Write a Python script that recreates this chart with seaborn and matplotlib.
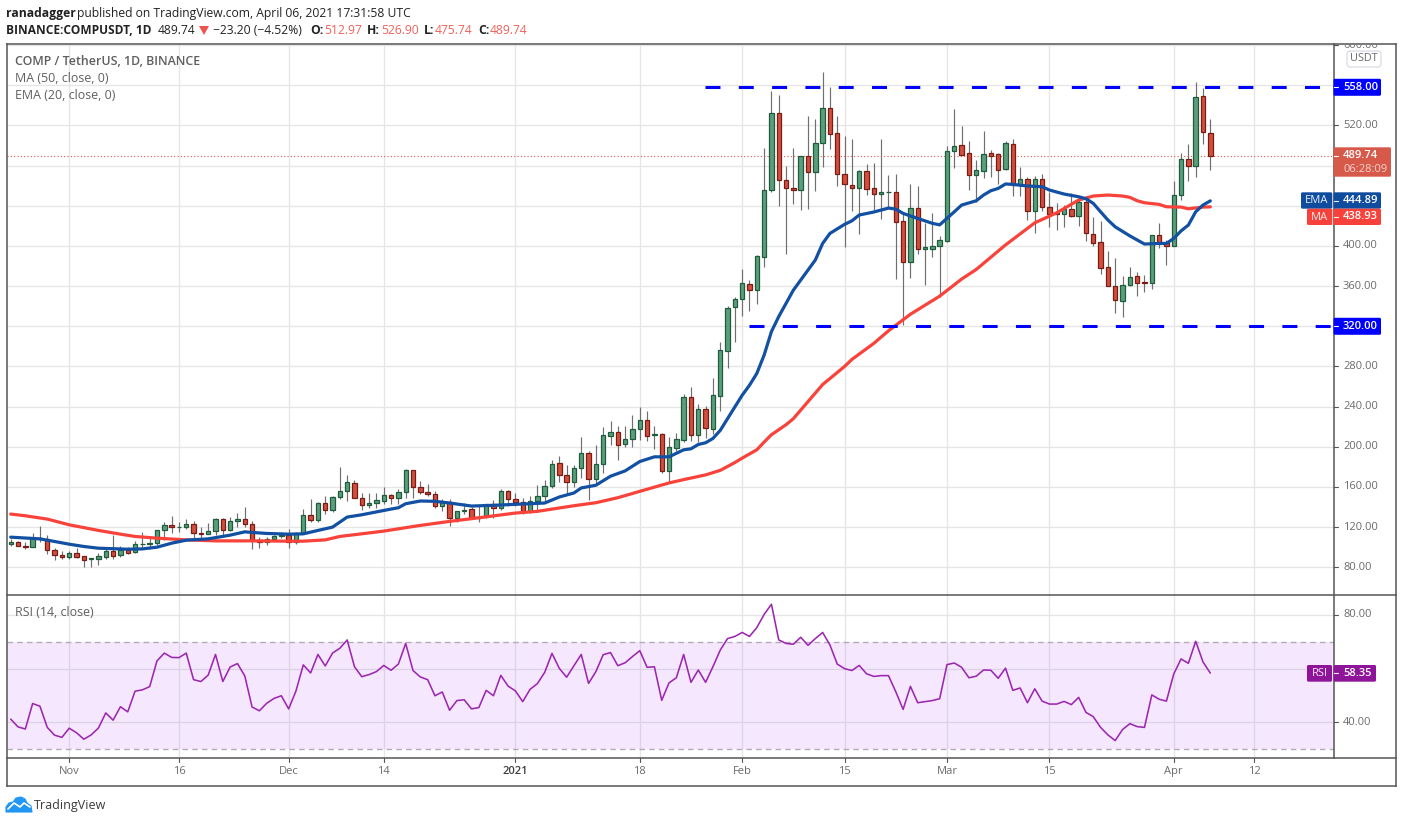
import matplotlib
matplotlib.use("Agg")
import matplotlib.pyplot as plt
import seaborn as sns
import pandas as pd
from matplotlib.patches import Rectangle, FancyBboxPatch, Polygon

# ------------------------------------------------------------ #
# Data (candle 0 = 24 Oct 2020, daily)
# ------------------------------------------------------------ #
opens = [102.7, 104.7, 101, 100, 109, 108, 97, 92, 90.7, 94,
         91, 88, 88.7, 90.7, 96, 92, 97, 95, 102.7, 102.7,
         103.7, 116.7, 122, 120, 119.7, 123, 114.3, 112.7, 116, 128,
         117, 125.7, 128, 123, 107, 105, 108, 111, 111.7, 105,
         114, 132, 127, 144, 137, 149.7, 155.7, 164.3, 149.3, 142,
         144, 146, 152.3, 149, 155, 177.3, 160.3, 155.3, 153.3, 141,
         145.3, 129, 136.3, 137.7, 129, 131, 143.3, 139.3, 156.3, 148.3,
         145, 136, 146, 151, 161, 184.3, 172.3, 165, 179, 194.3,
         168, 183.3, 211, 214.3, 203, 207.3, 217.3, 226.3, 211.3, 212.3,
         176, 199, 207, 250, 212, 238, 218, 251, 295, 339,
         347.4, 361.7, 356.3, 389.2, 455.3, 532, 465.3, 457.3, 455.3, 490,
         473.3, 502.2, 537, 512.2, 471.3, 460.3, 457.3, 474.3, 457.3, 451.4,
         453.5, 453.4, 424.5, 383.6, 437.4, 397.2, 397.2, 399.5, 404.5, 494.2,
         500.2, 492.2, 470.3, 475, 492.2, 491.2, 477, 501.2, 460.7, 466.3,
         434.4, 466.3, 438.4, 432.5, 432, 436.4, 429.4, 443.4, 411.5, 403.5,
         378.6, 359.7, 344.7, 360.7, 369.6, 363.6, 362.7, 410.5, 402.5, 399.5,
         450.4, 486.2, 479.3, 549, 512.97]
highs = [107.9, 105.7, 105, 114, 121, 112, 99.3, 96, 96, 99.7,
         91, 89, 94.3, 100.3, 111.7, 101, 100, 106, 115.3, 110,
         117.3, 125, 131.3, 125.3, 128.3, 126.3, 119.7, 124.3, 129.3, 129.3,
         130.3, 134.3, 140.3, 126.3, 110, 110.3, 112.3, 115, 118.3, 115.3,
         138.3, 148.3, 144.7, 151.3, 151.3, 180.3, 172.3, 166.7, 153.7, 153.7,
         153.7, 159.7, 153, 157.7, 178, 177.3, 165.7, 163.3, 155.7, 148.3,
         148, 136.3, 144, 140, 140.7, 143.3, 146.7, 158.3, 157.3, 154.3,
         149.3, 151, 161.7, 166.7, 186.7, 191.3, 181.7, 181.7, 209.7, 196,
         201.7, 219.3, 225.7, 220.7, 220.7, 231.7, 239.7, 235.7, 220.7, 213.3,
         209.7, 213.3, 253, 259.3, 242.3, 240.3, 268.3, 304.3, 340.3, 348.7,
         377, 366, 391, 498, 554.4, 550.4, 479.3, 497.2, 489.2, 529.4,
         526.4, 573, 558.3, 529.4, 509.5, 506.5, 475.3, 481.6, 482.6, 506.5,
         470.6, 471.6, 431.4, 461.7, 459.7, 423, 432.8, 409.5, 499.5, 536,
         519.5, 504.5, 485.6, 514.5, 495.5, 492.9, 504.5, 506.5, 478.6, 469,
         469.6, 471.6, 454, 442.7, 440.7, 452.7, 449, 447.4, 428.8, 424.8,
         394.9, 387.9, 370, 378.9, 374, 370.6, 410.5, 422.8, 405.8, 464.7,
         492.2, 501.5, 563.3, 557, 526.9]
lows = [100.7, 100.7, 98, 100, 104.7, 93.7, 87.7, 88.3, 88.7, 89.7,
        80.7, 80.7, 82.7, 88.7, 88.7, 90.7, 93, 94, 98.3, 98,
        102.3, 107, 113.7, 115, 117.7, 107.3, 108.3, 112.7, 112, 112,
        116, 120.3, 120, 98.7, 99.7, 101.7, 107.3, 108.7, 99.7, 103.3,
        114, 124.7, 124.7, 132.7, 134.7, 148, 145.7, 149, 137, 139.3,
        139, 143.3, 143.3, 142.7, 149.3, 148.7, 153.3, 150.7, 139.3, 136,
        121, 125, 132.7, 128.3, 125, 129.3, 129, 137.3, 140.7, 140.7,
        133.3, 134, 136.7, 146, 159.3, 165, 151.7, 160, 169, 146.7,
        163.3, 174, 202, 186.7, 200, 200, 206.7, 205.7, 197.7, 174,
        165, 196, 204.7, 205.7, 204.7, 208.7, 212.3, 235.7, 278.7, 304.6,
        330.4, 335.4, 342.4, 379.3, 454, 440, 392.2, 442, 436, 437,
        455, 479, 497, 460, 399, 434.8, 412, 451, 435.4, 427,
        438, 367.3, 321, 368.3, 392.2, 361, 389.2, 348.7, 403.9, 478,
        490.5, 455.7, 444, 468, 468.6, 461.3, 476, 449.7, 449.7, 425.8,
        412.8, 435, 418.8, 415.8, 418.8, 429, 419.8, 404.9, 400.2, 372.3,
        359.7, 333.4, 329.4, 360, 350.4, 354.3, 357.3, 398.2, 381, 399.5,
        445.7, 464.7, 468.6, 501.9, 475.74]
closes = [105, 101, 100, 108.7, 107.7, 97, 92, 90.7, 94, 90.7,
          87, 89, 91, 96, 91.7, 97, 94.7, 103, 103.3, 104.3,
          117, 122, 120, 120.3, 123, 113.7, 112.7, 116, 128, 117,
          126, 128, 122.7, 107, 105, 108, 111.3, 111.7, 105, 113.7,
          132, 127, 144, 137, 150, 156, 165, 149, 142.3, 144.3,
          147.3, 152.3, 149, 155.3, 177.3, 160, 155, 153, 141, 144.7,
          129, 136.3, 137.3, 129, 130.3, 143, 139, 156.3, 148, 145,
          136, 146, 151.3, 161.3, 183.3, 172, 165, 179.3, 194.3, 168,
          183.3, 211.3, 214.3, 202, 207.3, 217.3, 226.3, 211, 212.3, 176,
          199.3, 207.3, 250, 212, 238, 219, 252, 296, 338, 347,
          362.7, 356.3, 389.6, 455.3, 532, 465.3, 457.3, 455.3, 489.2, 473.3,
          502.2, 537, 511.2, 471.3, 461.3, 457.3, 474.3, 456.3, 451.4, 453.4,
          454, 423.5, 383.6, 437.4, 396.5, 398.5, 399.5, 405.5, 494.2, 499.2,
          490.9, 470.3, 475.3, 491.2, 490, 476, 502.2, 460.3, 466.3, 434.4,
          466.3, 438.4, 431.4, 431.8, 436.4, 429.4, 443.4, 412.5, 403.2, 378.3,
          359.7, 345.7, 360.7, 368.6, 363.3, 362.7, 410.5, 402.5, 399.5, 450.4,
          486.2, 479.3, 548, 513.2, 489.74]

rsi = [41.2, 38.3, 37.5, 47, 46, 38.1, 35.2, 34.4, 37.8, 36.1,
       33.7, 35.3, 37.9, 43.5, 40.8, 45.8, 43.9, 51.6, 52.1, 53.3,
       62.9, 65.8, 64.2, 64.1, 65.8, 55.9, 55.2, 57.6, 65.3, 55.2,
       60.6, 61.9, 57.3, 45.7, 44.3, 47.1, 48.9, 49.9, 45, 51.7,
       61.4, 58.4, 65.3, 61, 65.8, 67.6, 70.7, 60.7, 57, 57.8,
       58.9, 61.2, 59.4, 61.7, 69.4, 59.3, 56.9, 55.9, 49.9, 51.3,
       44.5, 48.1, 48.4, 45, 45.5, 51.9, 49.9, 57.5, 53.5, 51.7,
       47.7, 52.3, 54.4, 58.6, 65.7, 60.1, 56.8, 61.1, 65.3, 54.5,
       58.9, 65.2, 66, 61.1, 62.2, 64.5, 66.7, 60.5, 60.7, 48.2,
       54.7, 56.6, 65.3, 54.9, 59.5, 54.9, 60.7, 66.9, 71.2, 72,
       73.5, 72, 75.3, 80.2, 84, 70.7, 69.4, 69.1, 71.7, 68.7,
       71.2, 73.5, 68.8, 61.7, 60, 59.3, 61.2, 58.1, 57.1, 57.4,
       57.4, 51.4, 44.8, 53.4, 47.3, 47.7, 48.1, 48.8, 61.5, 62.1,
       60.5, 56.6, 57.2, 59.5, 59.4, 56.4, 60.2, 51.9, 52.8, 47.3,
       52.5, 47.9, 46.8, 46.8, 47.8, 46.6, 49.3, 43.7, 42.1, 38.1,
       35.3, 33.2, 37.3, 39.5, 38.4, 38.1, 50.2, 48.6, 47.9, 58,
       63.6, 62, 70.2, 62.5, 58.35]

ema_days = [0, 4, 6, 8, 10, 12, 16, 18, 20, 22, 24, 27, 30, 32, 33, 35, 38, 40, 42, 44,
            46, 48, 52, 53, 54, 56, 58, 60, 63, 66, 69, 71, 73, 75, 77, 78, 80, 82, 84, 86,
            88, 90, 92, 93, 94, 95, 96, 97, 98, 99, 100, 101, 102, 103, 104, 105, 107, 109, 110,
            111, 112, 114, 115, 116, 118, 120, 121, 122, 124, 126, 127, 129, 130, 132, 133,
            134, 135, 136, 137, 139, 141, 142, 144, 146, 147, 148, 149, 150, 151, 153, 155,
            157, 158, 159, 160, 161, 162, 163, 164]
ema = [110, 108.3, 105.7, 103, 100.7, 99, 98, 98.3, 100, 104, 107, 108.3, 112, 115.3, 114.7, 113.7, 113, 113.3, 116.7, 120,
       130, 132.3, 138, 139.3, 143.3, 146, 145.7, 144, 141, 141.7, 142.7, 143.3, 144, 150, 154, 159, 161.7, 170.7, 176, 185.3,
       190, 190, 197, 198, 202.3, 204, 208.3, 216.3, 228, 239.7, 251.3, 261.3, 273, 291.3, 314.7, 329.7, 356, 376, 386,
       402.5, 412.5, 421.5, 425, 430.8, 433.8, 437.7, 436.7, 432.4, 427.4, 422.5, 421, 434, 440.7, 445, 450.7,
       455, 457.3, 461.7, 461.3, 459.7, 459, 455.7, 451.7, 449, 447, 442.4, 434, 425.8, 419, 410, 401.9,
       402.5, 402.5, 407.5, 415, 420.8, 434, 440.7, 444.89]

ma_days = [0, 2, 5, 8, 12, 15, 17, 20, 24, 28, 33, 38, 40, 43, 45, 51, 53, 56, 60, 64, 69, 72, 77, 80,
           83, 87, 90, 92, 95, 97, 99, 100, 102, 103, 104, 106, 107, 109, 111, 112, 114, 115, 118, 120, 123, 127,
           130, 132, 136, 140, 143, 146, 148, 150, 152, 153, 154, 155, 157, 158, 160, 161, 163, 164]
ma = [133, 131.3, 128, 122.3, 116.7, 113, 110.7, 109, 107.3, 106.3, 106.3, 106, 106, 107.3, 110.7, 116, 118.3, 121.7, 125.7, 129.3, 134, 135.7, 141.3, 144.3,
      149.3, 157.7, 164, 167.3, 172, 176.5, 184.3, 188.7, 197, 204.7, 212, 222, 228, 245, 262, 268, 280, 287, 303, 315.5, 332, 350,
      367, 376.6, 401, 423, 433, 445.7, 449.7, 450.7, 449.7, 448.4, 445, 443, 441.4, 439, 438.7, 437, 438.7, 438.93]

price_ticks = [80, 120, 160, 200, 240, 280, 360, 400, 520]
price_grid = [80, 120, 160, 200, 240, 280, 320, 360, 400, 440, 480, 520, 560, 600]
rsi_grid = [40, 60, 80]
rsi_ticks = [40, 80]
date_pos = [8, 23, 38, 51, 69, 86, 100, 114, 128, 142, 159, 170]
date_labels = ["Nov", "16", "Dec", "14", "2021", "18", "Feb", "15", "Mar", "15", "Apr", "12"]

resist = 558.0
support = 320.0
last_price = 489.74

df = pd.DataFrame({"day": range(len(closes)), "open": opens, "high": highs,
                   "low": lows, "close": closes, "rsi": rsi})
ema_df = pd.DataFrame({"day": ema_days, "value": ema})
ma_df = pd.DataFrame({"day": ma_days, "value": ma})

# ------------------------------------------------------------ #
# Figure and panes
# ------------------------------------------------------------ #
sns.set_theme(style="white")
plt.rcParams["font.family"] = ["Open Sans", "DejaVu Sans"]

W, H = 1402, 823
LEFT, RIGHT, TOP, MID, BOT = 6.5, 1333.5, 43.5, 595.0, 758.0
GRID = "#e6e6e6"
FRAME = "#555555"
TICK = "#6b6b6b"
AX_FS = 8.0


def pane(l, t, r, b):
    return fig.add_axes([l / W, 1 - b / H, (r - l) / W, (b - t) / H])


fig = plt.figure(figsize=(W / 100, H / 100), dpi=100, facecolor="white")
ax = pane(LEFT, TOP, RIGHT, MID)
ax2 = pane(LEFT, MID, RIGHT, BOT)

for a in (ax, ax2):
    a.set_xlim(-0.574, 180.84)
    a.set_xticks(date_pos)
    a.set_axisbelow(True)
    a.grid(True, color=GRID, lw=1.0)
    a.tick_params(left=False, bottom=False, labelleft=False, labelbottom=False)
    a.set_xlabel("")
    a.set_ylabel("")
    for s in a.spines.values():
        s.set_visible(False)

ax.set_ylim(52.4, 601.6)
ax.set_yticks(price_grid)
ax2.set_ylim(26.7, 87.45)
ax2.set_yticks(rsi_grid)

# candles
up = df["close"] >= df["open"]
ax.vlines(df["day"], df["low"], df["high"], color="#6f6f6f", lw=0.85, zorder=2)
body_low = df[["open", "close"]].min(axis=1)
body_high = df[["open", "close"]].max(axis=1)
ax.bar(df["day"][up], (body_high - body_low)[up], bottom=body_low[up], width=0.6,
       color="#5c9e7c", edgecolor="#1f5c3e", lw=0.9, zorder=3)
ax.bar(df["day"][~up], (body_high - body_low)[~up], bottom=body_low[~up], width=0.6,
       color="#d24f3e", edgecolor="#7a1c16", lw=0.9, zorder=3)

# moving averages
sns.lineplot(data=ma_df, x="day", y="value", ax=ax, color="#f8423a", lw=2.3,
             errorbar=None, legend=False, zorder=4)
sns.lineplot(data=ema_df, x="day", y="value", ax=ax, color="#1150a2", lw=2.3,
             errorbar=None, legend=False, zorder=5)
ax.set_xlabel("")
ax.set_ylabel("")

# last price and the two drawn levels
ax.axhline(last_price, color="#d05a4b", lw=0.8, ls=(0, (1, 2)), zorder=2.5)
ax.hlines(resist, 94.9, 180.84, color="#0000ff", lw=2.2, linestyles=[(0, (4.9, 6.0))], zorder=6)
ax.hlines(support, 100.9, 180.84, color="#0000ff", lw=2.2, linestyles=[(0, (4.9, 6.0))], zorder=6)

# RSI
ax2.axhspan(30, 70, color="#9915f5", alpha=0.095, lw=0, zorder=1)
ax2.axhline(70, color="#b5aab8", lw=1.0, ls=(0, (4, 3)), zorder=2)
ax2.axhline(30, color="#b5aab8", lw=1.0, ls=(0, (4, 3)), zorder=2)
sns.lineplot(data=df, x="day", y="rsi", ax=ax2, color="#9c27b0", lw=1.15,
             errorbar=None, legend=False, zorder=3)
ax2.set_xlabel("")
ax2.set_ylabel("")

# ------------------------------------------------------------ #
# Overlay in pixels: frame, axis strips, labels
# ------------------------------------------------------------ #
ov = fig.add_axes([0, 0, 1, 1], zorder=10)
ov.set_xlim(0, W)
ov.set_ylim(H, 0)
ov.axis("off")
ov.patch.set_alpha(0)


def y_price(p):
    return ax.transData.transform((0, p))[1] * -1 + H


def y_rsi(p):
    return ax2.transData.transform((0, p))[1] * -1 + H


def x_day(d):
    return ax.transData.transform((d, 0))[0]


for xs, ys in [([LEFT, 1395.5], [TOP, TOP]), ([LEFT, 1395.5], [MID, MID]),
               ([LEFT, 1395.5], [BOT, BOT]), ([LEFT, 1395.5], [786, 786]),
               ([LEFT, LEFT], [TOP, 786]), ([1395.5, 1395.5], [TOP, 786]),
               ([RIGHT, RIGHT], [TOP, BOT])]:
    ov.plot(xs, ys, color=FRAME, lw=1.1, solid_capstyle="projecting")

TK = dict(color=TICK, fontsize=AX_FS, va="center", ha="left")
for p in price_ticks:
    yy = y_price(p)
    ov.plot([RIGHT, RIGHT + 4.5], [yy, yy], color=FRAME, lw=0.8)
    ov.text(1343, yy, f"{p:.2f}", **TK)
t = ov.text(1343, y_price(600), "600.00", clip_on=True, **TK)
t.set_clip_path(Rectangle((RIGHT, TOP + 1), 55, 30, transform=ov.transData))
ov.plot([RIGHT, RIGHT + 4.5], [y_price(600)] * 2, color=FRAME, lw=0.8)
for p in rsi_ticks:
    yy = y_rsi(p)
    ov.plot([RIGHT, RIGHT + 4.5], [yy, yy], color=FRAME, lw=0.8)
    ov.text(1343, yy, f"{p:.2f}", **TK)
for d, lab in zip(date_pos, date_labels):
    xx = x_day(d)
    ov.plot([xx, xx], [BOT, BOT + 4], color=FRAME, lw=0.8)
    ov.text(xx, 771.5, lab, color="#3f3f3f" if lab == "2021" else TICK, fontsize=AX_FS,
            ha="center", va="center", fontweight="semibold" if lab == "2021" else "normal")


def tag(x0, x1, y0, y1, color):
    ov.add_patch(FancyBboxPatch((x0 + 1, y0 + 1), x1 - x0 - 2, y1 - y0 - 2,
                                boxstyle="round,pad=1,rounding_size=1.5", fc=color, ec="none", zorder=3))


def value_tag(x1, y0, y1, color, text):
    tag(RIGHT, x1, y0, y1, color)
    ov.plot([RIGHT, RIGHT + 4.5], [(y0 + y1) / 2] * 2, color="white", lw=0.8, zorder=4)
    ov.text(1343, (y0 + y1) / 2, text, color="white", fontsize=AX_FS, va="center", ha="left",
            fontweight="semibold", zorder=5)


value_tag(1381, y_price(resist) - 8.5, y_price(resist) + 8.5, "#0000ff", "558.00")
value_tag(1381, y_price(support) - 8.5, y_price(support) + 8.5, "#0000ff", "320.00")

# last price tag has a countdown under the value
tag(RIGHT, 1391, 147.3, 176.7, "#d6594a")
ov.plot([RIGHT, RIGHT + 4.5], [155.5, 155.5], color="white", lw=0.8, zorder=4)
ov.text(1343, 155.5, "489.74", color="white", fontsize=AX_FS, va="center", fontweight="semibold", zorder=5)
ov.text(1343, 169, "06:28:09", color="#f6d5d0", fontsize=AX_FS, va="center", zorder=5)

value_tag(1381, 192.3, 208.7, "#0f4c9e", "444.89")
tag(1301, 1332.3, 192.3, 208.7, "#0f4c9e")
ov.text(1316.5, 200.5, "EMA", color="#e8eef8", fontsize=AX_FS, ha="center", va="center", zorder=5)
value_tag(1381, 208.7, 225, "#f6423b", "438.93")
tag(1307, 1332.3, 208.7, 225, "#f6423b")
ov.text(1319.5, 217, "MA", color="#fde8e6", fontsize=AX_FS, ha="center", va="center", zorder=5)

value_tag(1376, 665, 681.7, "#8e1599", "58.35")
tag(1307, 1332, 665, 681.7, "#8e1599")
ov.text(1319.5, 673.5, "RSI", color="#f5e6f8", fontsize=AX_FS, ha="center", va="center", zorder=5)

ov.add_patch(FancyBboxPatch((1348, 52), 32, 14, boxstyle="round,pad=1,rounding_size=3",
                            fc="white", ec="#d9dbe3", lw=0.9, zorder=3))
ov.text(1364, 58.5, "USDT", color=TICK, fontsize=7.8, ha="center", va="center", zorder=5)

# pane captions
CAP = dict(color="#5f5f5f", fontsize=8.9, va="center", ha="left")
ov.text(15, 61, "COMP / TetherUS, 1D, BINANCE", fontweight="semibold", **CAP)
ov.text(15, 78, "MA (50, close, 0)", **CAP)
ov.text(15, 95, "EMA (20, close, 0)", **CAP)
ov.text(15, 612, "RSI (14, close)", **CAP)

# header
HEAD = dict(fontsize=8.75, va="center", ha="left", color="#222222")
ov.text(6, 13, "ranadagger", fontweight="bold", **HEAD)
ov.text(77, 13, "published on TradingView.com, April 06, 2021 17:31:58 UTC", **HEAD)
ov.text(6, 30, "BINANCE:COMPUSDT, 1D", fontweight="bold", fontsize=8.6, va="center", ha="left", color="#222222")
ov.text(158, 30, "489.74", **HEAD)
ov.add_patch(Polygon([(199, 26), (209, 26), (204, 35)], fc="#ef5350", ec="none"))
ov.text(213, 30, "\u221223.20 (\u22124.52%)", **HEAD)
RED = dict(fontsize=8.75, va="center", ha="left", color="#f0605a")
for x_lab, lab, x_val, val in [(310, "O:", 324, "512.97"), (367, "H:", 381, "526.90"),
                               (424, "L:", 435, "475.74"), (478, "C:", 490, "489.74")]:
    ov.text(x_lab, 30, lab, fontweight="bold", **HEAD)
    ov.text(x_val, 30, val, **RED)

# TradingView logo
ov.add_patch(Polygon([(6, 812), (6, 807), (9, 803), (13, 802), (16, 798), (21, 797), (25, 799),
                      (27, 803), (31, 806), (32, 812)], fc="#2196f3", ec="#2196f3", lw=0.8, joinstyle="round"))
ov.plot([8, 14, 20, 24, 30], [809, 803, 807, 803, 807], color="white", lw=1.2)
ov.text(34, 805, "TradingView", color="#3a3a3a", fontsize=9.0, va="center", ha="left")

fig.savefig("out.png", dpi=100)
